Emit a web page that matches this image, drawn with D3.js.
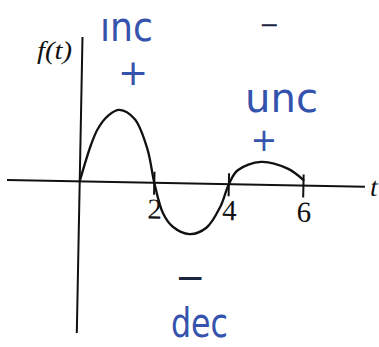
<!DOCTYPE html>
<html>
<head>
<meta charset="utf-8">
<script src="https://cdn.jsdelivr.net/npm/d3@7/dist/d3.min.js"></script>
<style>
  html, body { margin: 0; padding: 0; background: #fff; }
  svg { display: block; }
</style>
</head>
<body>
<svg id="chart" width="379" height="347"></svg>
<script>
// Sketch of f(t) on [0, 6] with sign notes for where it rises and falls
const tValues = [0, 0.28, 0.46, 0.73, 1.03, 1.44, 1.8, 2, 2.25, 2.52, 2.97, 3.42, 3.78, 4, 4.23, 4.85, 5.57, 6];
const fValues = [0, 0.98, 1.43, 1.79, 1.95, 1.71, 0.9, 0, -0.82, -1.18, -1.37, -1.19, -0.62, 0, 0.38, 0.62, 0.45, 0.15];
const tickValues = [2, 4, 6];
const tickLabels = ["2", "4", "6"];
const tDomain = [-1.95, 7.65];
const fDomain = [-4.1, 3.9];

const notes = [
  { text: "ınc", x: 100, y: 41, size: 40, len: 53, color: "#3553ad" },
  { text: "+", x: 133, y: 85, size: 36, color: "#3553ad", anchor: "middle" },
  { text: "unc", x: 245, y: 112, size: 40, len: 73, color: "#3553ad" },
  { text: "+", x: 264, y: 151, size: 32, color: "#3553ad", anchor: "middle" },
  { text: "−", x: 269, y: 33, size: 24, color: "#1c2540", anchor: "middle" },
  { text: "−", x: 190, y: 290, size: 36, color: "#1c2540", anchor: "middle" },
  { text: "dec", x: 171, y: 337, size: 40, len: 57, color: "#3553ad" }
];

const svg = d3.select("#chart");

const x = d3.scaleLinear().domain(tDomain).range([7, 365]);
const y = d3.scaleLinear().domain(fDomain).range([333, 37]);

// the page was scanned slightly askew; turn the plot about its origin
const g = svg.append("g")
  .attr("transform", `rotate(1.1, ${x(0)}, ${y(0)})`);

const ink = "#111";

// axes
g.append("line")
  .attr("x1", x(tDomain[0])).attr("x2", x(tDomain[1]))
  .attr("y1", y(0)).attr("y2", y(0))
  .attr("stroke", ink).attr("stroke-width", 2);
g.append("line")
  .attr("x1", x(0)).attr("x2", x(0))
  .attr("y1", y(fDomain[1])).attr("y2", y(fDomain[0]))
  .attr("stroke", ink).attr("stroke-width", 2);

// tick marks and numbers on the t axis
g.selectAll("line.tick").data(tickValues).join("line")
  .attr("class", "tick")
  .attr("x1", d => x(d)).attr("x2", d => x(d))
  .attr("y1", y(0) - 11).attr("y2", y(0) + 12)
  .attr("stroke", ink).attr("stroke-width", 2);
g.selectAll("text.tl").data(tickValues).join("text")
  .attr("class", "tl")
  .attr("x", d => x(d) + 1)
  .attr("y", y(0) + 36)
  .attr("text-anchor", "middle")
  .attr("font-family", "Liberation Serif, serif")
  .attr("font-size", 29)
  .attr("fill", ink)
  .text((d, i) => tickLabels[i]);

g.append("text")
  .attr("x", 374).attr("y", y(0) + 9)
  .attr("text-anchor", "middle")
  .attr("font-family", "Liberation Serif, serif")
  .attr("font-style", "italic")
  .attr("font-size", 27)
  .attr("fill", ink)
  .text("t");

// the curve
const pts = tValues.map((t, i) => [t, fValues[i]]);
g.append("path")
  .datum(pts)
  .attr("fill", "none")
  .attr("stroke", ink)
  .attr("stroke-width", 2.3)
  .attr("stroke-linecap", "round")
  .attr("d", d3.line().x(d => x(d[0])).y(d => y(d[1])).curve(d3.curveCatmullRom.alpha(0.5)));

// axis name
svg.append("text")
  .attr("x", 37).attr("y", 59)
  .attr("font-family", "Liberation Serif, serif")
  .attr("font-style", "italic")
  .attr("font-size", 25)
  .attr("textLength", 35)
  .attr("lengthAdjust", "spacingAndGlyphs")
  .attr("fill", ink)
  .text("f(t)");

// pen notes
svg.selectAll("text.note").data(notes).join("text")
  .attr("class", "note")
  .attr("x", d => d.x).attr("y", d => d.y)
  .attr("text-anchor", d => d.anchor || "start")
  .attr("font-family", "DejaVu Sans, sans-serif")
  .attr("font-size", d => d.size)
  .attr("fill", d => d.color)
  .each(function (d) {
    if (d.len) d3.select(this).attr("textLength", d.len).attr("lengthAdjust", "spacingAndGlyphs");
  })
  .text(d => d.text);
</script>
</body>
</html>
